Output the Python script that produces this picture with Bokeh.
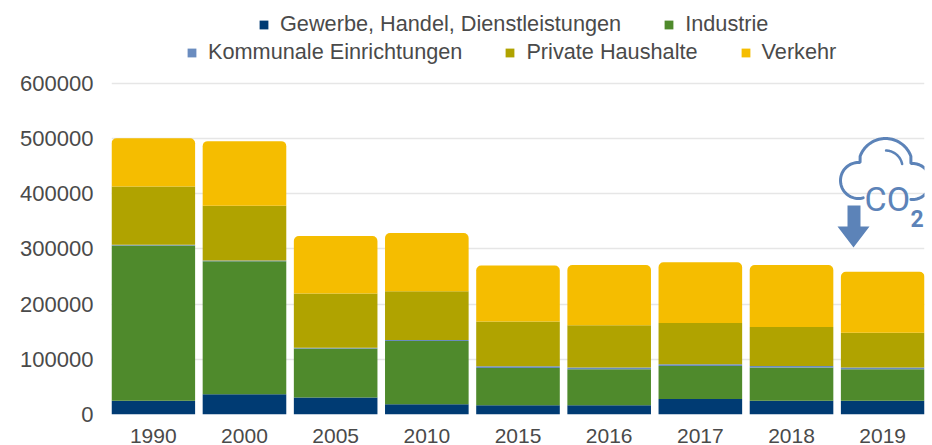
import math
from bokeh.plotting import figure
from bokeh.models import (Range1d, FixedTicker, NumeralTickFormatter,
                          Legend, LegendItem, ColumnDataSource, Label)
from bokeh.embed import file_html
from bokeh.resources import INLINE

years = ["1990", "2000", "2005", "2010", "2015", "2016", "2017", "2018", "2019"]
gewerbe = [24700, 36800, 30700, 18700, 16900, 16900, 28300, 24700, 24700]
industrie = [281500, 241000, 88900, 114700, 67500, 65100, 59700, 60300, 57300]
kommunal = [1500, 1500, 1500, 1500, 3000, 3000, 3000, 3000, 3000]
private = [105800, 99300, 98300, 88700, 81400, 77000, 74800, 70500, 63000]
verkehr = [87400, 116900, 104300, 105400, 101200, 109000, 110200, 112500, 110600]
y_ticks = [0, 100000, 200000, 300000, 400000, 500000, 600000]

names = ["Gewerbe, Handel, Dienstleistungen", "Industrie", "Kommunale Einrichtungen",
         "Private Haushalte", "Verkehr"]
series = [gewerbe, industrie, kommunal, private, verkehr]
colors = ["#003b73", "#4f8a2c", "#6a8cbf", "#b0a300", "#f5bd00"]

FONT = "Liberation Sans"
TXT = "#4a4a4a"
W, H = 932, 445
BOTTOM = 414
ICON = "#5c83b8"
positions = list(range(len(years)))

p = figure(width=W, height=H, output_backend="svg", toolbar_location=None,
           x_range=Range1d(-0.4585, len(years) - 1 + 0.4585),
           y_range=Range1d(0, 750453),
           min_border_left=111, min_border_right=8, min_border_top=0,
           min_border_bottom=H - BOTTOM)
p.outline_line_color = None
p.background_fill_color = "white"
p.border_fill_color = "white"

p.xgrid.visible = False
p.ygrid.grid_line_color = "#e6e6e6"
p.ygrid.grid_line_width = 1.5
p.ygrid.ticker = FixedTicker(ticks=y_ticks)

for ax, size in ((p.xaxis[0], "21px"), (p.yaxis[0], "22px")):
    ax.axis_line_color = None
    ax.major_tick_line_color = None
    ax.minor_tick_line_color = None
    ax.major_label_text_font = FONT
    ax.major_label_text_font_size = size
    ax.major_label_text_color = TXT
p.xaxis[0].ticker = FixedTicker(ticks=positions)
p.xaxis[0].major_label_overrides = {i: y for i, y in zip(positions, years)}
p.yaxis[0].ticker = FixedTicker(ticks=y_ticks)
p.yaxis[0].formatter = NumeralTickFormatter(format="0")
p.yaxis[0].major_label_standoff = 12
p.xaxis[0].major_label_standoff = 8

bottoms = [0] * len(years)
renderers = []
for i, (name, vals, col) in enumerate(zip(names, series, colors)):
    tops = [b + v for b, v in zip(bottoms, vals)]
    src = ColumnDataSource(dict(x=positions, bottom=bottoms, top=tops))
    kw = {"border_radius": (5, 5, 0, 0)} if name == "Verkehr" else {}
    r = p.vbar(x="x", bottom="bottom", top="top", width=0.917, source=src,
               fill_color=col, line_color=None, **kw)
    renderers.append(r)
    bottoms = tops


def make_legend(idx, loc):
    lg = Legend(items=[LegendItem(label=names[i], renderers=[renderers[i]]) for i in idx],
                orientation="horizontal", location=loc, margin=0, padding=0, spacing=42,
                label_standoff=11, glyph_width=11, glyph_height=11,
                border_line_color=None, background_fill_alpha=0,
                label_text_font=FONT, label_text_font_size="21.7px", label_text_color=TXT)
    p.add_layout(lg, "center")


make_legend([0, 1], (258 - 111, 377))
make_legend([2, 3, 4], (186 - 111, 349))

# CO2 icon, drawn in page pixels through its own ranges
p.extra_x_ranges["icon"] = Range1d(111, 924)
p.extra_y_ranges["icon"] = Range1d(BOTTOM, 0)


def arc(cx, cy, r, a0, a1, n=40):
    return ([cx + r * math.cos(math.radians(a0 + (a1 - a0) * k / n)) for k in range(n + 1)],
            [cy - r * math.sin(math.radians(a0 + (a1 - a0) * k / n)) for k in range(n + 1)])


def icon_line(xs, ys, width=3):
    p.line(xs, ys, x_range_name="icon", y_range_name="icon", line_color=ICON,
           line_width=width, line_cap="round")


a = arc(858, 180, 18, 285, 85)
b = arc(885, 165, 27, 160, 20)
c = arc(912, 181, 18, 95, -95)
icon_line(a[0] + b[0] + c[0], a[1] + b[1] + c[1])
d = arc(885, 167, 17, 88, 12)
icon_line(d[0], d[1], 2.5)

p.patch([847, 860, 860, 869, 853, 837, 847], [205, 205, 226, 226, 247, 226, 226],
        x_range_name="icon", y_range_name="icon", fill_color=ICON, line_color=None)

p.add_layout(Label(x=864, y=198, x_range_name="icon", y_range_name="icon", text="CO",
                   text_font="Roboto", text_font_size="34px",
                   text_color=ICON, text_baseline="alphabetic"))
p.add_layout(Label(x=910, y=218, x_range_name="icon", y_range_name="icon", text="2",
                   text_font="Roboto", text_font_size="23px",
                   text_font_style="bold", text_color=ICON, text_baseline="alphabetic"))

open("out.html", "w").write(file_html(p, INLINE))
